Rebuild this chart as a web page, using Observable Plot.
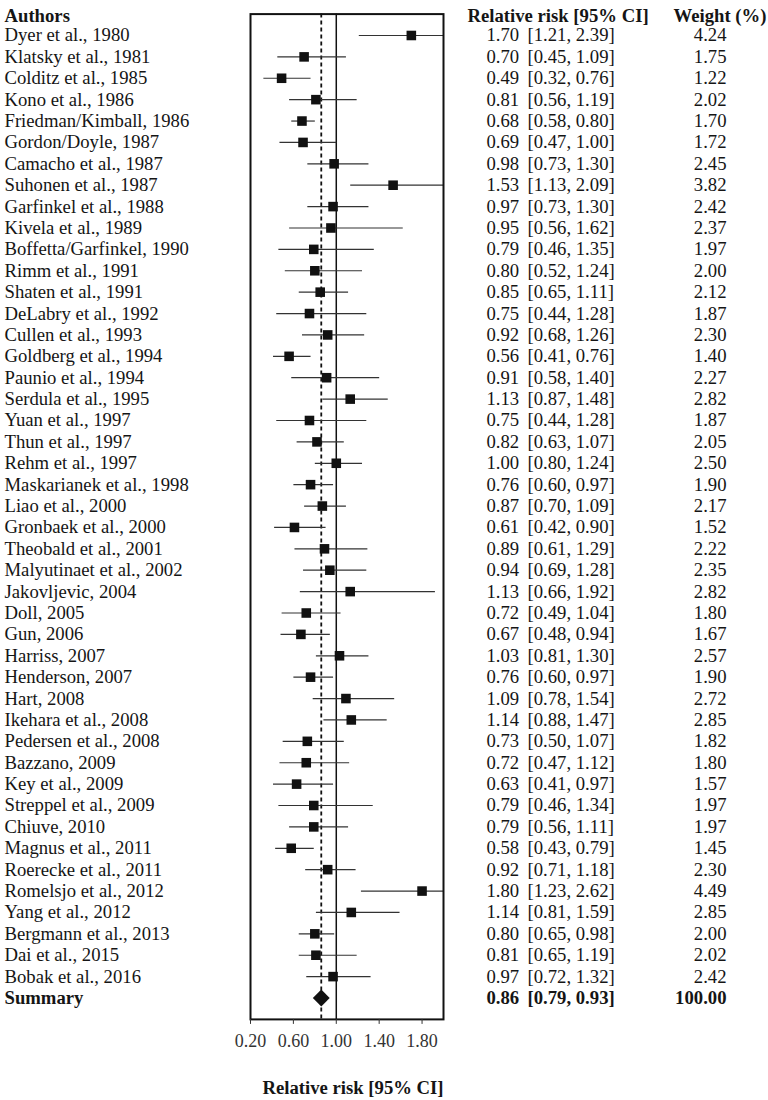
<!DOCTYPE html>
<html><head><meta charset="utf-8">
<script src="https://cdn.jsdelivr.net/npm/d3@7"></script>
<script src="https://cdn.jsdelivr.net/npm/@observablehq/plot@0.6"></script>
<style>body{margin:0;background:#fff} svg{display:block}</style>
</head><body><div id="chart"></div>
<script>
const studies = ["Dyer et al., 1980","Klatsky et al., 1981","Colditz et al., 1985","Kono et al., 1986","Friedman/Kimball, 1986","Gordon/Doyle, 1987","Camacho et al., 1987","Suhonen et al., 1987","Garfinkel et al., 1988","Kivela et al., 1989","Boffetta/Garfinkel, 1990","Rimm et al., 1991","Shaten et al., 1991","DeLabry et al., 1992","Cullen et al., 1993","Goldberg et al., 1994","Paunio et al., 1994","Serdula et al., 1995","Yuan et al., 1997","Thun et al., 1997","Rehm et al., 1997","Maskarianek et al., 1998","Liao et al., 2000","Gronbaek et al., 2000","Theobald et al., 2001","Malyutinaet et al., 2002","Jakovljevic, 2004","Doll, 2005","Gun, 2006","Harriss, 2007","Henderson, 2007","Hart, 2008","Ikehara et al., 2008","Pedersen et al., 2008","Bazzano, 2009","Key et al., 2009","Streppel et al., 2009","Chiuve, 2010","Magnus et al., 2011","Roerecke et al., 2011","Romelsjo et al., 2012","Yang et al., 2012","Bergmann et al., 2013","Dai et al., 2015","Bobak et al., 2016"];
const rr =     [1.70,0.70,0.49,0.81,0.68,0.69,0.98,1.53,0.97,0.95,0.79,0.80,0.85,0.75,0.92,0.56,0.91,1.13,0.75,0.82,1.00,0.76,0.87,0.61,0.89,0.94,1.13,0.72,0.67,1.03,0.76,1.09,1.14,0.73,0.72,0.63,0.79,0.79,0.58,0.92,1.80,1.14,0.80,0.81,0.97];
const lower =  [1.21,0.45,0.32,0.56,0.58,0.47,0.73,1.13,0.73,0.56,0.46,0.52,0.65,0.44,0.68,0.41,0.58,0.87,0.44,0.63,0.80,0.60,0.70,0.42,0.61,0.69,0.66,0.49,0.48,0.81,0.60,0.78,0.88,0.50,0.47,0.41,0.46,0.56,0.43,0.71,1.23,0.81,0.65,0.65,0.72];
const upper =  [2.39,1.09,0.76,1.19,0.80,1.00,1.30,2.09,1.30,1.62,1.35,1.24,1.11,1.28,1.26,0.76,1.40,1.48,1.28,1.07,1.24,0.97,1.09,0.90,1.29,1.28,1.92,1.04,0.94,1.30,0.97,1.54,1.47,1.07,1.12,0.97,1.34,1.11,0.79,1.18,2.62,1.59,0.98,1.19,1.32];
const weights =[4.24,1.75,1.22,2.02,1.70,1.72,2.45,3.82,2.42,2.37,1.97,2.00,2.12,1.87,2.30,1.40,2.27,2.82,1.87,2.05,2.50,1.90,2.17,1.52,2.22,2.35,2.82,1.80,1.67,2.57,1.90,2.72,2.85,1.82,1.80,1.57,1.97,1.97,1.45,2.30,4.49,2.85,2.00,2.02,2.42];
const summaryLabel = "Summary";
const summaryRR = 0.86, summaryLower = 0.79, summaryUpper = 0.93, summaryWeight = 100.00;
const headerLabels = ["Authors", "Relative risk [95% CI]", "Weight (%)"];
const axisTitle = "Relative risk [95% CI]";
const xTicks = [0.20, 0.60, 1.00, 1.40, 1.80];

const rows = studies.map((s, i) => ({row: i + 1, study: s, rr: rr[i], lo: lower[i], hi: upper[i], w: weights[i]}));
const sumRow = [{row: studies.length + 1, study: summaryLabel, rr: summaryRR, lo: summaryLower, hi: summaryUpper, w: summaryWeight}];
const headRow = [{row: 0}];
const f2 = d3.format(".2f");
const font = "'Liberation Serif', 'Times New Roman', serif";
const ink = "#151515";

const chart = Plot.plot({
  width: 768, height: 1100,
  marginLeft: 250, marginRight: 325, marginTop: 13.6, marginBottom: 81.1,
  style: {fontFamily: font, fontSize: "18.7px", color: ink, background: "#fff"},
  x: {domain: [0.2, 2.0], clamp: true},
  y: {domain: [0, studies.length + 2], reverse: true, axis: null},
  marks: [
    Plot.ruleX([1], {stroke: "#111", strokeWidth: 1.5}),
    Plot.ruleX(sumRow, {x: "rr", stroke: "#111", strokeWidth: 1.8, strokeDasharray: "4,3"}),
    Plot.link(rows, {x1: "lo", x2: "hi", y1: "row", y2: "row", stroke: "#333", strokeWidth: 1.2}),
    Plot.dot(rows, {x: "rr", y: "row", symbol: "square", r: 5.4, fill: "#111", stroke: null}),
    Plot.dot(sumRow, {x: "rr", y: "row", symbol: "diamond2", r: 7.6, fill: "#111", stroke: null}),
    Plot.frame({stroke: "#111", strokeWidth: 2}),
    Plot.axisX({ticks: xTicks, tickFormat: f2, tickSize: 5, tickPadding: 10, label: null, fontSize: 18, color: "#333"}),
    // headers
    Plot.text(headRow, {y: "row", text: () => headerLabels[0], frameAnchor: "left", dx: -246, dy: 2, textAnchor: "start", fontWeight: "bold", fill: ink}),
    Plot.text(headRow, {y: "row", text: () => headerLabels[1], frameAnchor: "right", dx: 24, dy: 2, textAnchor: "start", fontWeight: "bold", fill: ink}),
    Plot.text(headRow, {y: "row", text: () => headerLabels[2], frameAnchor: "right", dx: 323, dy: 2, textAnchor: "end", fontWeight: "bold", fill: ink}),
    // study rows
    Plot.text(rows, {y: "row", text: "study", frameAnchor: "left", dx: -246, textAnchor: "start", fill: ink}),
    Plot.text(rows, {y: "row", text: d => f2(d.rr), frameAnchor: "right", dx: 43, textAnchor: "start", fill: ink}),
    Plot.text(rows, {y: "row", text: d => `[${f2(d.lo)}, ${f2(d.hi)}]`, frameAnchor: "right", dx: 84, textAnchor: "start", fill: ink}),
    Plot.text(rows, {y: "row", text: d => f2(d.w), frameAnchor: "right", dx: 283, textAnchor: "end", fill: ink}),
    // summary row
    Plot.text(sumRow, {y: "row", text: "study", frameAnchor: "left", dx: -246, textAnchor: "start", fontWeight: "bold", fill: ink}),
    Plot.text(sumRow, {y: "row", text: d => f2(d.rr), frameAnchor: "right", dx: 43, textAnchor: "start", fontWeight: "bold", fill: ink}),
    Plot.text(sumRow, {y: "row", text: d => `[${f2(d.lo)}, ${f2(d.hi)}]`, frameAnchor: "right", dx: 84, textAnchor: "start", fontWeight: "bold", fill: ink}),
    Plot.text(sumRow, {y: "row", text: d => f2(d.w), frameAnchor: "right", dx: 283, textAnchor: "end", fontWeight: "bold", fill: ink}),
    // axis title
    Plot.text([axisTitle], {text: d => d, frameAnchor: "bottom", dx: 6, dy: 75, fontWeight: "bold", fill: ink})
  ]
});
document.getElementById("chart").appendChild(chart);
</script>
</body></html>
